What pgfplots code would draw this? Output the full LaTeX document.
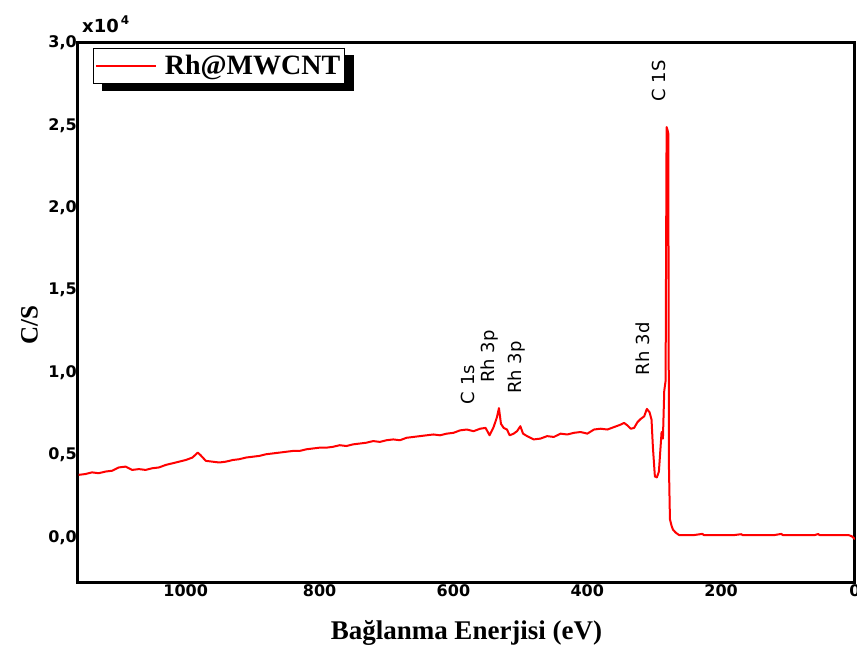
\documentclass[border=0pt]{standalone}
\usepackage{pgfplots}
\pgfplotsset{compat=1.18}
\usepackage{fontspec}
\setmainfont{Liberation Serif}
\newfontfamily\dvs{DejaVu Sans}
\usetikzlibrary{calc,backgrounds}

\pgfplotstableread{
x y
1160 3800
1150 3850
1140 3950
1130 3900
1120 4000
1110 4050
1100 4250
1090 4300
1080 4100
1070 4150
1060 4100
1050 4200
1040 4250
1030 4400
1020 4500
1010 4600
1000 4700
990 4850
982 5150
978 5000
970 4650
960 4600
950 4550
940 4600
930 4700
920 4750
910 4850
900 4900
890 4950
880 5050
870 5100
860 5150
850 5200
840 5250
830 5250
820 5350
810 5400
800 5450
790 5450
780 5500
770 5600
760 5550
750 5650
740 5700
730 5750
720 5850
710 5800
700 5900
690 5950
680 5900
670 6050
660 6100
650 6150
640 6200
630 6250
620 6200
610 6300
600 6350
590 6500
580 6550
570 6450
560 6600
552 6650
546 6200
540 6700
535 7300
532 7850
529 6900
525 6650
520 6550
516 6200
510 6300
505 6450
500 6750
496 6300
490 6150
480 5950
470 6000
460 6150
450 6100
440 6300
430 6250
420 6350
410 6400
400 6300
390 6550
380 6600
370 6550
360 6700
350 6850
345 6950
340 6800
335 6600
330 6650
325 7000
320 7200
315 7350
311 7800
307 7600
304 7150
302 5500
299 3700
296 3650
293 4000
291 5200
289 6400
287 6000
285 8900
283 9500
281.5 24900
280 24700
279 24500
278 4300
276.5 1100
274 700
272 480
268 300
263 150
240 150
228 220
226 150
180 150
170 200
168 150
120 150
110 220
108 150
60 150
55 210
53 150
10 150
5 80
0 -100
}\spectrum

\begin{document}
\begin{tikzpicture}
\begin{axis}[
  name=ax,
  scale only axis,
  width=777pt, height=539pt,
  x dir=reverse,
  xmin=0, xmax=1161,
  ymin=-2700, ymax=30000,
  scaled y ticks=false,
  xtick={0,200,400,600,800,1000},
  ytick={0,5000,10000,15000,20000,25000,30000},
  yticklabels={{0,0},{0,5},{1,0},{1,5},{2,0},{2,5},{3,0}},
  major tick length=0pt,
  axis line style={line width=3pt},
  /pgf/number format/assume math mode=true,
  /pgf/number format/1000 sep={},
  ticklabel style={font=\dvs\bfseries\fontsize{16}{16}\selectfont},
  yticklabel style={inner xsep=1pt},
  xticklabel style={inner ysep=2pt},
  xlabel={Bağlanma Enerjisi (eV)},
  ylabel={C/S},
  xlabel style={at={(axis description cs:0.5,0)}, anchor=north, inner sep=0pt, yshift=-38pt,
    font=\bfseries\fontsize{27}{27}\selectfont},
  ylabel style={at={(axis description cs:-0.0515,0.477)}, anchor=south, inner sep=0pt,
    font=\bfseries\fontsize{25}{25}\selectfont},
  legend style={name=lg, at={(axis description cs:0.0193,0.9907)}, anchor=north west,
    draw=black, line width=0.8pt, fill=white, inner xsep=2pt, inner ysep=5pt,
    font=\bfseries\fontsize{28}{28}\selectfont},
  legend image code/.code={\draw[red, line width=1.5pt] (0pt,0pt) -- (60pt,0pt);},
  legend cell align=left,
  clip=true,
]
\addplot[red, line width=2pt, line join=round] table[x=x, y=y] {\spectrum};
\addlegendentry{\hspace{6pt}Rh@MWCNT}

\begin{scope}[every node/.style={rotate=90, font=\dvs\fontsize{18}{18}\selectfont, inner sep=0pt}]
\node at (axis cs:293,27700) {C 1S};
\node at (axis cs:317,11450) {Rh 3d};
\node at (axis cs:577.7,9270) {C 1s};
\node at (axis cs:545.6,10970) {Rh 3p};
\node at (axis cs:505,10300) {Rh 3p};
\end{scope}
\end{axis}
% drop shadow behind the legend box
\begin{scope}[on background layer]
\fill[black] ($(lg.south west)+(9pt,-7pt)$) rectangle ($(lg.north east)+(9pt,-7pt)$);
\end{scope}
\node[anchor=south west, inner sep=0pt, font=\dvs\bfseries\fontsize{18}{18}\selectfont]
  at ($(ax.north west)+(4pt,10pt)$) {x10\raisebox{8pt}{\fontsize{12}{12}\selectfont\,4}};
\pgfresetboundingbox
\path[use as bounding box] ($(ax.south west)+(-78pt,-69pt)$) rectangle ($(ax.north east)+(2pt,43pt)$);
\end{tikzpicture}
\end{document}
